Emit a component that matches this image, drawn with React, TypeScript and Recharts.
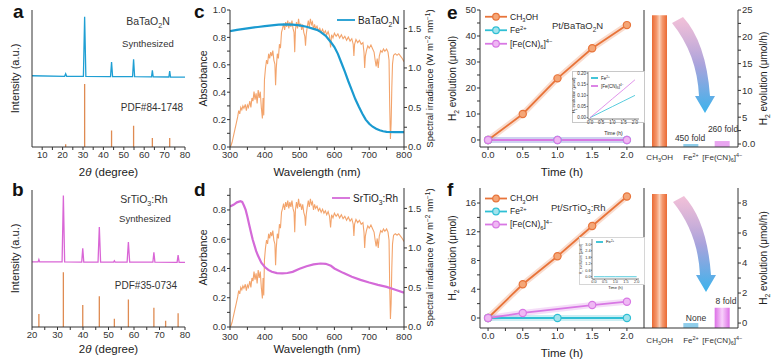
import React from "react";
import { Bar, BarChart, Cell, Legend, Line, LineChart, ReferenceArea, XAxis, YAxis } from "recharts";

const FONT = "'Liberation Sans', Arial, sans-serif";
const VFONT = "'Liberation Sans', Arial, sans-serif";
const INK = "#333";
const TICK = { fontSize: 9.5, fill: INK, fontFamily: FONT };

// a: XRD BaTaO2N, measured scan and PDF#84-1748 sticks (2θ, a.u.)
const baTaO2NScan = [
  [5, 52], [21, 51.6], [21.5, 53.5], [22, 51.6], [30.2, 51.5], [30.8, 95], [31.4, 51.5],
  [43.5, 51.4], [44, 62], [44.5, 51.4], [54.3, 51.3], [54.8, 64], [55.3, 51.3],
  [63.6, 51.2], [64, 56], [64.4, 51.2], [72.1, 51.1], [72.5, 55.5], [72.9, 51.1], [80, 51],
];
const baTaO2NPdf = [[21.5, 2], [30.8, 46], [44, 12], [54.8, 15.5], [64, 6.5], [72.5, 6.5]];
const xrdTicksA = [10, 15, 20, 25, 30, 35, 40, 45, 50, 55, 60, 65, 70, 75, 80];

// b: XRD SrTiO3:Rh, measured scan and PDF#35-0734 sticks
const srTiO3Scan = [
  [20, 47.6], [22.4, 47.5], [22.7, 49.2], [23, 47.5], [31.8, 47.5], [32.3, 96], [32.8, 47.5],
  [39.5, 47.4], [39.9, 57.5], [40.3, 47.4], [45.9, 47.4], [46.4, 73], [46.9, 47.4],
  [52, 47.4], [52.3, 48.3], [52.6, 47.4], [57.3, 47.3], [57.8, 62], [58.3, 47.3],
  [67.4, 47.3], [67.8, 54.5], [68.2, 47.3], [76.9, 47.2], [77.3, 52.5], [77.7, 47.2], [80, 47.2],
];
const srTiO3Pdf = [[22.7, 9.5], [32.3, 40], [39.9, 16], [46.4, 22.5], [52.3, 6], [57.8, 20], [67.8, 14], [72.4, 4.5], [77.3, 10]];
const xrdTicksB = [20, 25, 30, 35, 40, 45, 50, 55, 60, 65, 70, 75, 80];

// c, d: solar spectrum (W m-2 nm-1) and absorbance vs wavelength (nm)
const am15g = [
  [300, 0], [303, 0.02], [306, 0.06], [310, 0.14], [314, 0.22], [318, 0.3], [322, 0.38], [325, 0.46],
  [328, 0.42], [331, 0.5], [334, 0.47], [337, 0.52], [340, 0.49], [344, 0.54], [347, 0.46], [350, 0.53],
  [353, 0.5], [357, 0.58], [360, 0.5], [363, 0.62], [366, 0.58], [369, 0.7], [372, 0.6], [375, 0.68],
  [378, 0.55], [381, 0.72], [384, 0.62], [387, 0.7], [390, 0.5], [393, 0.36], [395, 0.62], [397, 0.4],
  [399, 0.85], [402, 1.0], [405, 1.1], [408, 1.05], [411, 1.18], [414, 1.12], [417, 1.2], [420, 1.15],
  [423, 1.22], [426, 1.1], [429, 1.05], [431, 0.78], [433, 1.0], [436, 1.18], [439, 1.12], [442, 1.3],
  [445, 1.25], [448, 1.45], [451, 1.5], [454, 1.56], [457, 1.48], [460, 1.58], [463, 1.52], [466, 1.6],
  [469, 1.5], [472, 1.58], [475, 1.52], [478, 1.6], [481, 1.5], [484, 1.45], [486, 1.2], [488, 1.48],
  [491, 1.58], [494, 1.5], [497, 1.62], [500, 1.52], [503, 1.56], [506, 1.48], [509, 1.55], [512, 1.45],
  [515, 1.4], [517, 1.28], [519, 1.42], [522, 1.52], [525, 1.6], [528, 1.52], [531, 1.62], [534, 1.55],
  [537, 1.58], [540, 1.48], [543, 1.55], [546, 1.5], [550, 1.53], [554, 1.47], [558, 1.5], [562, 1.45],
  [566, 1.49], [570, 1.44], [574, 1.47], [578, 1.42], [582, 1.46], [586, 1.4], [589, 1.26], [592, 1.42],
  [596, 1.38], [600, 1.44], [605, 1.4], [610, 1.43], [615, 1.38], [620, 1.42], [625, 1.37], [630, 1.4],
  [635, 1.35], [640, 1.39], [645, 1.34], [650, 1.37], [654, 1.3], [656, 1.15], [658, 1.3], [662, 1.36],
  [667, 1.32], [672, 1.35], [677, 1.3], [682, 1.32], [685, 1.2], [687, 1.0], [689, 1.15], [692, 1.22],
  [696, 1.28], [700, 1.25], [705, 1.29], [710, 1.24], [714, 1.2], [717, 1.1], [720, 1.02], [723, 1.12],
  [726, 1.0], [729, 1.15], [733, 1.22], [737, 1.2], [741, 1.24], [745, 1.21], [750, 1.24], [754, 1.2],
  [757, 1.1], [759, 0.5], [761, 0.1], [763, 0.3], [765, 0.75], [767, 1.05], [770, 1.16], [775, 1.18],
  [780, 1.16], [785, 1.18], [790, 1.15], [795, 1.12], [800, 1.08],
];
const baTaO2NAbs = [
  [300, 0.845], [320, 0.855], [340, 0.862], [360, 0.87], [380, 0.876], [400, 0.882], [420, 0.888],
  [440, 0.893], [460, 0.895], [480, 0.893], [500, 0.888], [520, 0.878], [540, 0.862], [550, 0.855],
  [560, 0.84], [575, 0.812], [590, 0.765], [600, 0.73], [610, 0.68], [620, 0.615], [630, 0.55],
  [640, 0.48], [650, 0.415], [660, 0.35], [670, 0.295], [680, 0.245], [690, 0.2], [700, 0.17],
  [710, 0.148], [720, 0.133], [730, 0.122], [740, 0.115], [750, 0.11], [775, 0.108], [800, 0.108],
];
const srTiO3Abs = [
  [300, 0.823], [310, 0.835], [320, 0.852], [330, 0.86], [335, 0.855], [340, 0.83], [345, 0.8],
  [350, 0.754], [355, 0.7], [360, 0.65], [365, 0.6], [370, 0.56], [375, 0.52], [380, 0.49],
  [390, 0.44], [400, 0.41], [410, 0.39], [420, 0.377], [435, 0.368], [450, 0.366], [465, 0.369],
  [480, 0.377], [500, 0.398], [520, 0.415], [540, 0.428], [560, 0.434], [575, 0.432], [590, 0.418],
  [600, 0.4], [625, 0.37], [650, 0.343], [675, 0.322], [700, 0.304], [725, 0.288], [750, 0.274],
  [775, 0.255], [800, 0.235],
];
const wlTicks = [300, 350, 400, 450, 500, 550, 600, 650, 700, 750, 800];
const absTicksC = [0, 0.1, 0.2, 0.3, 0.4, 0.5, 0.6, 0.7, 0.8, 0.9, 1];
const absTicksD = [0, 0.1, 0.2, 0.3, 0.4, 0.5, 0.6, 0.7, 0.8, 0.9];
const irrTicks = [0, 0.25, 0.5, 0.75, 1, 1.25, 1.5];

// e, f: H2 evolution (µmol) vs time (h)
const reagents = ["CH_3OH", "Fe^{2+}", "[Fe(CN)_6]^{4−}"];
const timeH = [0, 0.5, 1, 1.5, 2];
const ch3ohE = [0, 10, 23.7, 35.3, 44.2];
const fe2TimeE = [0, 1, 2];
const fe2E = [0, 0, 0];
const fecnTimeE = [0, 1, 2];
const fecnE = [0, 0, 0];
const ch3ohF = [0, 4.7, 8.6, 12.8, 16.9];
const fe2TimeF = [0, 1, 2];
const fe2F = [0, 0, 0];
const fecnTimeF = [0, 0.5, 1.5, 2];
const fecnF = [0, 0.7, 1.8, 2.27];
const insetFe2E = [0, 0.025, 0.05, 0.075, 0.1];
const insetFecnE = [0, 0.042, 0.085, 0.127, 0.17];
const insetFe2F = [0, 0, 0, 0, 0];
const timeTicks = [0, 0.25, 0.5, 0.75, 1, 1.25, 1.5, 1.75, 2];
const h2TicksE = [0, 5, 10, 15, 20, 25, 30, 35, 40, 45, 50];
const h2TicksF = [0, 2, 4, 6, 8, 10, 12, 14, 16];

// e, f right: H2 evolution rate (µmol/h)
const rateE = [24, 0, 0.55];
const rateF = [8.6, 0, 1.02];
const rateTicksE = [0, 2.5, 5, 7.5, 10, 12.5, 15, 17.5, 20, 22.5, 25];
const rateTicksF = [0, 1, 2, 3, 4, 5, 6, 7, 8];

const STYLE: Record<string, { stroke: string; fill: string }> = {
  "CH_3OH": { stroke: "#e8743a", fill: "#f4a677" },
  "Fe^{2+}": { stroke: "#2fbfd4", fill: "#a3e3ec" },
  "[Fe(CN)_6]^{4−}": { stroke: "#d878e4", fill: "#efb8f4" },
};

const pts = (arr: number[][]) => arr.map(([x, y]) => ({ x, y }));
const sticks = (arr: number[][]) => arr.flatMap(([x, h]) => [{ x, y: 0 }, { x, y: h }, { x, y: null }]);
const xy = (xs: number[], ys: number[]) => xs.map((x, i) => ({ x, y: ys[i] }));
const every2 = (f: (v: number) => string) => (v: number, i: number) => (i % 2 === 0 ? f(v) : "");

// "CH_3OH", "Fe^{2+}" -> tspans with sub/superscripts
function svgChem(s: string, fs: number) {
  const toks = s.split(/(_\{[^}]*\}|_.|\^\{[^}]*\}|\^.)/).filter(Boolean);
  let off = 0;
  return toks.map((tok, i) => {
    const kind = tok[0] === "_" ? 1 : tok[0] === "^" ? -1 : 0;
    const text = kind ? tok.slice(1).replace(/^\{|\}$/g, "") : tok;
    const target = kind === 1 ? fs * 0.3 : kind === -1 ? -fs * 0.4 : 0;
    const dy = target - off;
    off = target;
    return (
      <tspan key={i} dy={dy} fontSize={kind ? fs * 0.68 : fs}>
        {text}
      </tspan>
    );
  });
}

const vLab = (s: string, dx: number, fs = 10.5) => (p: any) => {
  const vb = p.viewBox;
  if (!vb) return null;
  const x = vb.x + dx + fs * 0.35;
  const y = vb.y + vb.height / 2;
  return (
    <text x={x} y={y} transform={`rotate(-90 ${x} ${y})`} textAnchor="middle" fontSize={fs} fontFamily={VFONT} fill="#222">
      {svgChem(s, fs)}
    </text>
  );
};

const hLab = (content: React.ReactNode, dy: number, fs = 11.5) => (p: any) => {
  const vb = p.viewBox;
  if (!vb) return null;
  return (
    <text x={vb.x + vb.width / 2} y={vb.y + dy} textAnchor="middle" fontSize={fs} fontFamily={FONT} fill="#222">
      {content}
    </text>
  );
};

const makeLegend = (lineW: number, rowH: number, fs: number, dots: boolean) => (props: any) => {
  const items = (props.payload || []).filter((p: any) => p.type !== "none");
  return (
    <svg width={140} height={items.length * rowH} style={{ display: "block", overflow: "visible" }}>
      {items.map((p: any, i: number) => {
        const cy = i * rowH + rowH / 2;
        const st = STYLE[p.value];
        return (
          <g key={i}>
            <line x1={0} x2={lineW} y1={cy} y2={cy} stroke={p.color} strokeWidth={1.8} />
            {dots && st && <circle cx={lineW / 2} cy={cy} r={3.3} fill={st.fill} stroke={p.color} strokeWidth={1.2} />}
            <text x={lineW + 3} y={cy + fs * 0.35} fontSize={fs} fontFamily={FONT} fill="#222">
              {svgChem(String(p.value), fs)}
            </text>
          </g>
        );
      })}
    </svg>
  );
};

function XrdPanel({ top, scan, pdf, color, domain, ticks, xDy }: any) {
  return (
    <div style={{ position: "absolute", left: 0, top }}>
      <LineChart width={195} height={180} margin={{ top: 10, right: 10, bottom: 0, left: 0 }}>
        <XAxis
          type="number" dataKey="x" domain={domain} ticks={ticks} interval={0} allowDataOverflow
          tickFormatter={every2((v) => String(v))} height={33} tickSize={3} tickMargin={1}
          stroke={INK} tick={TICK}
          label={hLab(<>2<tspan fontStyle="italic">θ</tspan> (degree)</>, xDy)}
        />
        <XAxis xAxisId="top" orientation="top" type="number" domain={domain} height={0} tick={false} tickLine={false} stroke={INK} />
        <YAxis type="number" domain={[0, 100]} width={32} tick={false} tickLine={false} stroke={INK} label={vLab("Intensity (a.u.)", 15, 11)} />
        <YAxis yAxisId="right" orientation="right" type="number" domain={[0, 100]} width={0} tick={false} tickLine={false} stroke={INK} />
        <Line data={pts(scan)} dataKey="y" stroke={color} strokeWidth={1.3} dot={false} isAnimationActive={false} />
        <Line data={sticks(pdf)} dataKey="y" stroke="#df8b52" strokeWidth={1.3} dot={false} isAnimationActive={false} />
      </LineChart>
    </div>
  );
}

function SpectrumPanel({ top, height, marginTop, xHeight, abs, color, name, absDomain, absTicks, irrMax, xDy, tickMargin, legend }: any) {
  return (
    <div style={{ position: "absolute", left: 195, top }}>
      <LineChart width={250} height={height} margin={{ top: marginTop, right: 0, bottom: 0, left: 0 }}>
        <XAxis
          type="number" dataKey="x" domain={[300, 800]} ticks={wlTicks} interval={0} allowDataOverflow
          tickFormatter={every2((v) => String(v))} height={xHeight} tickSize={3} tickMargin={tickMargin}
          stroke={INK} tick={TICK} label={hLab("Wavelength (nm)", xDy)}
        />
        <XAxis xAxisId="top" orientation="top" type="number" domain={[300, 800]} height={0} tick={false} tickLine={false} stroke={INK} />
        <YAxis
          yAxisId="abs" type="number" domain={absDomain} ticks={absTicks} interval={0} allowDataOverflow
          tickFormatter={every2((v) => v.toFixed(1))} width={35} tickSize={3} tickMargin={1}
          stroke={INK} tick={TICK} label={vLab("Absorbance", 8)}
        />
        <YAxis
          yAxisId="sun" orientation="right" type="number" domain={[0, irrMax]} ticks={irrTicks} interval={0} allowDataOverflow
          tickFormatter={every2((v) => v.toFixed(1))} width={41} tickSize={3} tickMargin={1}
          stroke={INK} tick={TICK} label={vLab("Spectral irradiance (W m^{−2} nm^{−1})", 26, 9.5)}
        />
        <Line yAxisId="sun" data={pts(am15g)} dataKey="y" stroke="#f3a46c" strokeWidth={1.1} dot={false} legendType="none" isAnimationActive={false} />
        <Line yAxisId="abs" name={name} data={pts(abs)} dataKey="y" stroke={color} strokeWidth={2.2} dot={false} isAnimationActive={false} />
        <Legend layout="vertical" align="center" verticalAlign="middle" wrapperStyle={legend} content={makeLegend(18, 14, 10, false)} />
      </LineChart>
    </div>
  );
}

function KineticsPanel({ top, height, marginTop, xHeight, series, yDomain, yTicks, tickMargin, xDy, legend }: any) {
  return (
    <div style={{ position: "absolute", left: 445, top }}>
      <LineChart width={200} height={height} margin={{ top: marginTop, right: 1, bottom: 0, left: 0 }}>
        <XAxis
          type="number" dataKey="x" domain={[-0.116, 2.246]} ticks={timeTicks} interval={0} allowDataOverflow
          tickFormatter={every2((v) => v.toFixed(1))} height={xHeight} tickSize={3} tickMargin={tickMargin}
          stroke={INK} tick={TICK} label={hLab("Time (h)", xDy)}
        />
        <XAxis xAxisId="top" orientation="top" type="number" domain={[-0.116, 2.246]} height={0} tick={false} tickLine={false} stroke={INK} />
        <YAxis
          type="number" domain={yDomain} ticks={yTicks} interval={0} allowDataOverflow
          tickFormatter={every2((v) => String(v))} width={35} tickSize={3} tickMargin={1}
          stroke={INK} tick={TICK} label={vLab("H_2 evolution (μmol)", 7, 10)}
        />
        <YAxis yAxisId="right" orientation="right" type="number" domain={yDomain} width={0} tick={false} tickLine={false} stroke={INK} />
        {series.map((s: any) => (
          <Line key={"glow" + s.name} data={s.data} dataKey="y" stroke={STYLE[s.name].stroke} strokeOpacity={0.25} strokeWidth={6} dot={false} legendType="none" isAnimationActive={false} />
        ))}
        {series.map((s: any) => (
          <Line
            key={s.name} name={s.name} data={s.data} dataKey="y" stroke={STYLE[s.name].stroke} strokeWidth={1.8}
            dot={{ r: 3.6, fill: STYLE[s.name].fill, stroke: STYLE[s.name].stroke, strokeWidth: 1.2 }}
            isAnimationActive={false}
          />
        ))}
        <Legend layout="vertical" align="center" verticalAlign="middle" wrapperStyle={legend} content={makeLegend(22, legend.rowH, 8.5, true)} />
      </LineChart>
    </div>
  );
}

function ChemTick({ x, y, payload, dy }: any) {
  return (
    <text x={x} y={y + dy} textAnchor="middle" fontSize={8} fontFamily={FONT} fill={INK}>
      {svgChem(String(payload.value), 8)}
    </text>
  );
}

function RatePanel({ top, height, marginTop, xHeight, values, fills, domain, ticks, fmt, tickDy, children }: any) {
  const rows = reagents.map((name, i) => ({ name, v: values[i] }));
  return (
    <div style={{ position: "absolute", left: 640, top }}>
      <BarChart width={139} height={height} data={rows} margin={{ top: marginTop, right: 0, bottom: 0, left: 0 }}>
        <defs>
          <linearGradient id="gOrange" x1="0" y1="0" x2="1" y2="0">
            <stop offset="0" stopColor="#ea6a34" />
            <stop offset="0.3" stopColor="#f4976c" />
            <stop offset="0.5" stopColor="#fbcdb4" />
            <stop offset="0.7" stopColor="#f4976c" />
            <stop offset="1" stopColor="#ea6a34" />
          </linearGradient>
          <linearGradient id="gPurple" x1="0" y1="0" x2="1" y2="0">
            <stop offset="0" stopColor="#dc6fe6" />
            <stop offset="0.5" stopColor="#f8d0fb" />
            <stop offset="1" stopColor="#dc6fe6" />
          </linearGradient>
        </defs>
        <XAxis dataKey="name" interval={0} tickLine={false} tickSize={2} tickMargin={2} stroke={INK} height={xHeight} tick={<ChemTick dy={tickDy} />} />
        <XAxis xAxisId="top" orientation="top" dataKey="name" height={0} tick={false} tickLine={false} stroke={INK} />
        <YAxis yAxisId="l" type="number" domain={domain} allowDataOverflow width={4} tick={false} tickLine={false} stroke={INK} />
        <YAxis
          yAxisId="r" orientation="right" type="number" domain={domain} ticks={ticks} interval={0} allowDataOverflow
          tickFormatter={every2(fmt)} width={41} tickSize={3} tickMargin={1} stroke={INK} tick={TICK}
          label={vLab("H_2 evolution (μmol/h)", 25, 10)}
        />
        <Bar yAxisId="r" dataKey={(d: any) => [domain[0], d.v]} barSize={15} isAnimationActive={false}>
          {rows.map((r, i) => (
            <Cell key={r.name} fill={fills[i]} />
          ))}
        </Bar>
        {children}
      </BarChart>
    </div>
  );
}

function InsetE() {
  return (
    <>
      <div style={{ position: "absolute", left: 572, top: 71, width: 71, height: 50, border: "1px solid #c8c8c8", background: "#fff" }} />
      <div style={{ position: "absolute", left: 572, top: 71 }}>
        <LineChart width={72} height={70} margin={{ top: 1, right: 5, bottom: 0, left: 0 }}>
          <XAxis
            type="number" dataKey="x" domain={[-0.09, 2.18]} ticks={[0, 0.5, 1, 1.5, 2]} interval={0} allowDataOverflow
            tickFormatter={(v: number) => v.toFixed(1)} height={22} tickSize={1.5} tickMargin={0.5}
            stroke={INK} strokeWidth={0.6} tick={{ fontSize: 4.5, fill: INK, fontFamily: FONT }} label={hLab("Time (h)", 16, 5)}
          />
          <XAxis xAxisId="top" orientation="top" type="number" domain={[-0.09, 2.18]} height={0} tick={false} tickLine={false} stroke={INK} strokeWidth={0.6} />
          <YAxis
            type="number" domain={[-0.006, 0.205]} ticks={[0, 0.05, 0.1, 0.15, 0.2]} interval={0} allowDataOverflow
            tickFormatter={(v: number) => v.toFixed(2)} width={16} tickSize={1.5} tickMargin={0.5}
            stroke={INK} strokeWidth={0.6} tick={{ fontSize: 4.5, fill: INK, fontFamily: FONT }} label={vLab("H_2 evolution (μmol)", 2, 4.2)}
          />
          <YAxis yAxisId="right" orientation="right" type="number" domain={[-0.006, 0.205]} width={0} tick={false} tickLine={false} stroke={INK} strokeWidth={0.6} />
          <Line name="Fe^{2+}" data={xy(timeH, insetFe2E)} dataKey="y" stroke={STYLE["Fe^{2+}"].stroke} strokeWidth={0.8} dot={false} isAnimationActive={false} />
          <Line name="[Fe(CN)_6]^{4−}" data={xy(timeH, insetFecnE)} dataKey="y" stroke={STYLE["[Fe(CN)_6]^{4−}"].stroke} strokeWidth={0.8} dot={false} isAnimationActive={false} />
          <Legend layout="vertical" align="center" verticalAlign="middle" wrapperStyle={{ left: 19, top: 3 }} content={makeLegend(7, 8, 4.5, false)} />
        </LineChart>
      </div>
    </>
  );
}

function InsetF() {
  return (
    <>
      <div style={{ position: "absolute", left: 579, top: 237, width: 64, height: 46, border: "1px solid #d6d6d6", background: "#fff" }} />
      <div style={{ position: "absolute", left: 578, top: 237 }}>
        <LineChart width={66} height={56} margin={{ top: 2, right: 5, bottom: 0, left: 0 }}>
          <XAxis
            type="number" dataKey="x" domain={[-0.094, 2.11]} ticks={[0, 0.5, 1, 1.5, 2]} interval={0} allowDataOverflow
            tickFormatter={(v: number) => v.toFixed(1)} height={14} tickSize={1.2} tickMargin={0.3}
            stroke={INK} strokeWidth={0.6} tick={{ fontSize: 3.8, fill: INK, fontFamily: FONT }} label={hLab("Time (h)", 10, 4)}
          />
          <XAxis xAxisId="top" orientation="top" type="number" domain={[-0.094, 2.11]} height={0} tick={false} tickLine={false} stroke={INK} strokeWidth={0.6} />
          <YAxis
            type="number" domain={[-0.21, 3.49]} ticks={[0, 0.6, 1.2, 1.8, 2.4, 3]} interval={0} allowDataOverflow
            tickFormatter={(v: number) => v.toFixed(1)} width={14} tickSize={1.2} tickMargin={0.3}
            stroke={INK} strokeWidth={0.6} tick={{ fontSize: 3.8, fill: INK, fontFamily: FONT }} label={vLab("H_2 evolution (μmol)", 3, 3.6)}
          />
          <YAxis yAxisId="right" orientation="right" type="number" domain={[-0.21, 3.49]} width={0} tick={false} tickLine={false} stroke={INK} strokeWidth={0.6} />
          <Line name="Fe^{2+}" data={xy(timeH, insetFe2F)} dataKey="y" stroke={STYLE["Fe^{2+}"].stroke} strokeWidth={0.8} dot={false} isAnimationActive={false} />
          <Legend layout="vertical" align="center" verticalAlign="middle" wrapperStyle={{ left: 18, top: 1 }} content={makeLegend(7, 8, 4.2, false)} />
        </LineChart>
      </div>
    </>
  );
}

function Txt({ x, y, s, fs = 10, anchor = "middle" }: any) {
  return (
    <text x={x} y={y} fontSize={fs} fontFamily={FONT} fill="#333" textAnchor={anchor}>
      {svgChem(s, fs)}
    </text>
  );
}

const ARROW = "M 672 23 L 683 17 Q 706 42 710 96 L 715 96 L 705 113 L 695 96 L 699 96 Q 697 54 672 23 Z";

function Overlay() {
  const letter = { fontSize: 19, fontWeight: 700, fontFamily: VFONT, fill: "#111" };
  return (
    <svg width={779} height={359} style={{ position: "absolute", left: 0, top: 0, pointerEvents: "none" }}>
      <defs>
        <linearGradient id="arrowGrad" x1="0" y1="0" x2="0" y2="1">
          <stop offset="0" stopColor="#eca6c8" stopOpacity={0.7} />
          <stop offset="0.5" stopColor="#a9a3dc" />
          <stop offset="1" stopColor="#3cb3ec" />
        </linearGradient>
      </defs>
      <text x={13} y={18} {...letter}>a</text>
      <text x={12} y={196} {...letter}>b</text>
      <text x={194} y={18} {...letter}>c</text>
      <text x={194} y={196} {...letter}>d</text>
      <text x={447} y={19} {...letter}>e</text>
      <text x={447} y={196} {...letter}>f</text>

      <Txt x={148} y={25} s="BaTaO_2N" fs={10.5} />
      <Txt x={148} y={47} s="Synthesized" fs={9.5} />
      <Txt x={152} y={111} s="PDF#84-1748" fs={10} />
      <Txt x={144} y={203} s="SrTiO_3:Rh" fs={10.5} />
      <Txt x={145} y={222} s="Synthesized" fs={9.5} />
      <Txt x={146} y={289} s="PDF#35-0734" fs={10} />

      <Txt x={552} y={29} s="Pt/BaTaO_2N" anchor="start" fs={9.5} />
      <Txt x={551} y={211} s="Pt/SrTiO_3:Rh" anchor="start" fs={9.5} />

      <Txt x={690} y={141} s="450 fold" fs={8.5} />
      <Txt x={723} y={132} s="260 fold" fs={8.5} />
      <Txt x={726} y={304} s="8 fold" fs={8.5} />
      <Txt x={696} y={321} s="None" fs={8.5} />

      <path d={ARROW} fill="url(#arrowGrad)" />
      <path d={ARROW} fill="url(#arrowGrad)" transform="translate(1 179)" />
    </svg>
  );
}

export default function App() {
  const seriesE = [
    { name: reagents[0], data: xy(timeH, ch3ohE) },
    { name: reagents[1], data: xy(fe2TimeE, fe2E) },
    { name: reagents[2], data: xy(fecnTimeE, fecnE) },
  ];
  const seriesF = [
    { name: reagents[0], data: xy(timeH, ch3ohF) },
    { name: reagents[1], data: xy(fe2TimeF, fe2F) },
    { name: reagents[2], data: xy(fecnTimeF, fecnF) },
  ];
  return (
    <div style={{ position: "absolute", left: 0, top: 0, width: 779, height: 359, background: "#fff", overflow: "hidden" }}>
      <XrdPanel top={0} scan={baTaO2NScan} pdf={baTaO2NPdf} color="#1f9fd3" domain={[5, 80]} ticks={xrdTicksA} xDy={29} />
      <XrdPanel top={180} scan={srTiO3Scan} pdf={srTiO3Pdf} color="#d966d6" domain={[20, 80]} ticks={xrdTicksB} xDy={26} />

      <SpectrumPanel
        top={0} height={180} marginTop={10} xHeight={33} abs={baTaO2NAbs} color="#1a9ad0" name="BaTaO_2N"
        absDomain={[0, 1]} absTicks={absTicksC} irrMax={1.733} xDy={29} tickMargin={1} legend={{ left: 142, top: 13 }}
      />
      <SpectrumPanel
        top={175} height={184} marginTop={13} xHeight={32} abs={srTiO3Abs} color="#d46ad8" name="SrTiO_3:Rh"
        absDomain={[0, 0.95]} absTicks={absTicksD} irrMax={1.758} xDy={26} tickMargin={3} legend={{ left: 137, top: 16 }}
      />

      <KineticsPanel
        top={0} height={180} marginTop={10} xHeight={33} series={seriesE} yDomain={[-2.7, 50]} yTicks={h2TicksE}
        tickMargin={1} xDy={29} legend={{ left: 40, top: 10, rowH: 13.5 }}
      />
      <KineticsPanel
        top={175} height={184} marginTop={13} xHeight={31} series={seriesF} yDomain={[-1.39, 18.09]} yTicks={h2TicksF}
        tickMargin={1} xDy={29} legend={{ left: 40, top: 17, rowH: 13 }}
      />

      <RatePanel
        top={0} height={180} marginTop={10} xHeight={33} values={rateE} fills={["url(#gOrange)", "#8fcdea", "#e9a5f0"]}
        domain={[-0.56, 25]} ticks={rateTicksE} fmt={(v: number) => (v === 0 ? "0.0" : String(v))} tickDy={9}
      >
        <ReferenceArea yAxisId="r" x1={reagents[0]} x2={reagents[0]} y1={0.85} y2={1.02} fill="#fff" fillOpacity={1} stroke="none" />
        <ReferenceArea yAxisId="r" x1={reagents[0]} x2={reagents[0]} y1={1.55} y2={1.72} fill="#fff" fillOpacity={1} stroke="none" />
      </RatePanel>
      <RatePanel
        top={175} height={184} marginTop={13} xHeight={31} values={rateF} fills={["url(#gOrange)", "#8fcdea", "url(#gPurple)"]}
        domain={[-0.33, 9]} ticks={rateTicksF} fmt={(v: number) => String(v)} tickDy={11}
      />

      <InsetE />
      <InsetF />
      <Overlay />
    </div>
  );
}
